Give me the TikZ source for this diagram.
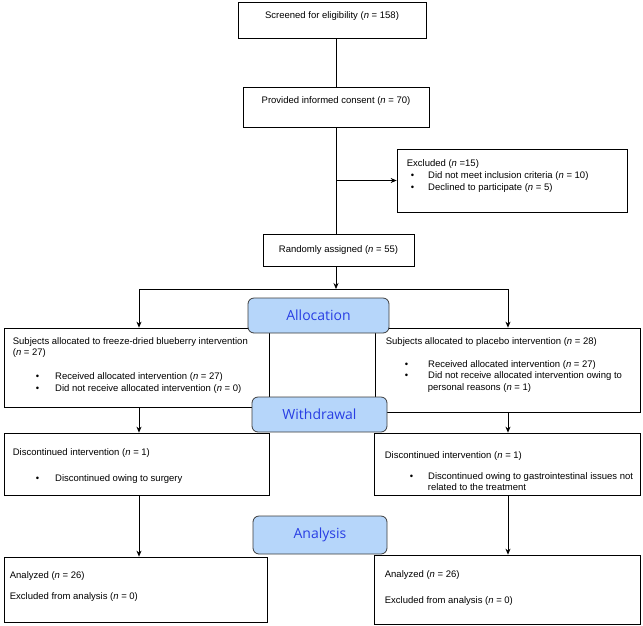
\documentclass[tikz,border=0pt]{standalone}
\usepackage{fontspec}
\setmainfont{Liberation Sans}
\newfontfamily\headfont{Open Sans}
\usetikzlibrary{positioning,arrows.meta}

\definecolor{headfill}{RGB}{182,214,250}
\definecolor{headblue}{RGB}{40,62,228}
\definecolor{headline}{RGB}{60,60,60}

\newcommand{\nv}{\textit{n}}
\newcommand{\bul}[2]{\hspace*{#1}\textbullet\hspace{#2}}

\begin{document}
\begin{tikzpicture}[x=1pt,y=-1pt,
    box/.style={draw, line width=0.7pt, inner sep=0pt},
    txt/.style={inner sep=0pt, align=left, font=\fontsize{9.5}{11.5}\selectfont},
    head/.style={draw=headline, line width=0.8pt, rounded corners=6pt, fill=headfill,
        text=headblue, inner sep=0pt, font=\headfont\fontsize{14}{16}\selectfont},
    >={Stealth[length=6pt,width=5pt]}]
    \useasboundingbox (0,0) rectangle (643,625);

    % columns for the connectors
    \coordinate (spine) at (336,0);
    \coordinate (lcol) at (139,0);
    \coordinate (rcol) at (508,0);
    \coordinate (split) at (336,289);

    % boxes
    \node[box, minimum width=188, minimum height=36] (screen) at (332,20) {};
    \node[box, minimum width=186, minimum height=40] (consent) at (336,107) {};
    \node[box, minimum width=230, minimum height=63] (excl) at (512,180.5) {};
    \node[box, minimum width=151, minimum height=32, font=\fontsize{9.5}{11.5}\selectfont]
        (random) at (338.5,250) {Randomly assigned (\nv{} = 55)};
    \node[box, minimum width=265, minimum height=79] (lalloc) at (136.5,367.5) {};
    \node[box, minimum width=265, minimum height=84] (ralloc) at (507.5,370) {};
    \node[box, minimum width=265, minimum height=62] (ldisc) at (136.5,464) {};
    \node[box, minimum width=266, minimum height=62] (rdisc) at (507,464) {};
    \node[box, minimum width=263, minimum height=65] (lanal) at (135.5,589.5) {};
    \node[box, minimum width=266, minimum height=69] (ranal) at (507,589.5) {};

    % texts
    \node[txt, below=10pt of screen.north] (screentxt) {Screened for eligibility (\nv{} = 158)};
    \node[txt, below=9.5pt of consent.north] (consenttxt) {Provided informed consent (\nv{} = 70)};
    \node[txt, below right=10.5pt and 10pt of excl.north west] (excltxt)
        {Excluded (\nv{} =15)\\[0.5pt]
         \bul{4pt}{14pt}Did not meet inclusion criteria (\nv{} = 10)\\[0.5pt]
         \bul{4pt}{14pt}Declined to participate (\nv{} = 5)};
    \node[txt, below right=9.5pt and 9pt of lalloc.north west] (lalloctxt)
        {Subjects allocated to freeze-dried blueberry intervention\\
         (\nv{} = 27)\\[12.5pt]
         \bul{23pt}{16pt}Received allocated intervention (\nv{} = 27)\\
         \bul{23pt}{16pt}Did not receive allocated intervention (\nv{} = 0)};
    \node[txt, below right=9.5pt and 11pt of ralloc.north west] (ralloctxt)
        {Subjects allocated to placebo intervention (\nv{} = 28)\\[11.5pt]
         \bul{19pt}{20pt}Received allocated intervention (\nv{} = 27)\\
         \bul{19pt}{20pt}Did not receive allocated intervention owing to\\
         \hspace*{42pt}personal reasons (\nv{} = 1)};
    \node[txt, below right=15.5pt and 9pt of ldisc.north west] (ldisctxt)
        {Discontinued intervention (\nv{} = 1)\\[14.5pt]
         \bul{23pt}{16pt}Discontinued owing to surgery};
    \node[txt, below right=18.5pt and 11pt of rdisc.north west] (rdisctxt)
        {Discontinued intervention (\nv{} = 1)\\[9.5pt]
         \bul{25pt}{15pt}Discontinued owing to gastrointestinal issues not\\
         \hspace*{43pt}related to the treatment};
    \node[txt, below right=14.5pt and 6pt of lanal.north west] (lanaltxt)
        {Analyzed (\nv{} = 26)\\[9.5pt]
         Excluded from analysis (\nv{} = 0)};
    \node[txt, below right=15.5pt and 11pt of ranal.north west] (ranaltxt)
        {Analyzed (\nv{} = 26)\\[14.5pt]
         Excluded from analysis (\nv{} = 0)};

    % stage headings
    \node[head, minimum width=141, minimum height=35] (allocation) at (318.5,315.5) {Allocation};
    \node[head, minimum width=135, minimum height=35] (withdrawal) at (319.5,414.5) {Withdrawal};
    \node[head, minimum width=134, minimum height=38] (analysis) at (320,535) {Analysis};

    % connectors
    \draw[line width=0.7pt] (screen.south -| spine) -- (consent.north -| spine);
    \draw[line width=0.7pt] (consent.south -| spine) -- (random.north -| spine);
    \draw[line width=0.7pt, ->] (excl.west -| spine) -- (excl.west);
    \draw[line width=0.7pt, ->] (random.south -| spine) -- (split);
    \draw[line width=0.7pt, ->] (split) -| (lcol |- lalloc.north);
    \draw[line width=0.7pt, ->] (split) -| (rcol |- ralloc.north);
    \draw[line width=0.7pt, ->] (lcol |- lalloc.south) -- (lcol |- ldisc.north);
    \draw[line width=0.7pt, ->] (rcol |- ralloc.south) -- (rcol |- rdisc.north);
    \draw[line width=0.7pt, ->] (lcol |- ldisc.south) -- (lcol |- lanal.north);
    \draw[line width=0.7pt, ->] (rcol |- rdisc.south) -- (rcol |- ranal.north);
\end{tikzpicture}
\end{document}
